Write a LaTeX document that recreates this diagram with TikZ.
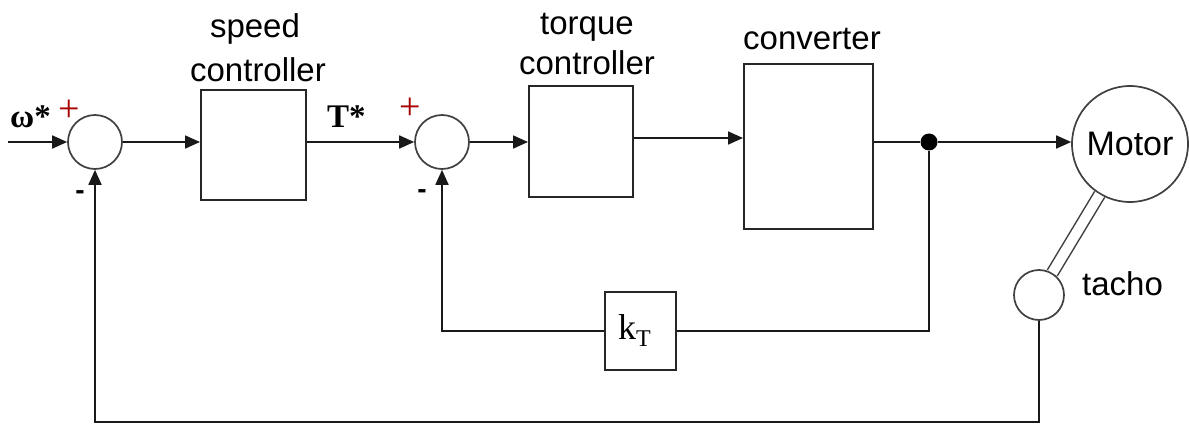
\documentclass[tikz,border=0pt]{standalone}
\usepackage{fontspec}
\setmainfont{Liberation Sans}
\newfontfamily\serifb{Liberation Serif}
\usetikzlibrary{arrows.meta}
\tikzset{
  line/.style={line width=1.8pt, draw=black!90},
  arr/.style={line, -{Triangle[length=15pt,width=13pt]}},
  sumnode/.style={circle, draw=black!75, line width=1.7pt, minimum size=54pt, inner sep=0pt},
  blockbox/.style={draw=black!85, line width=2pt, inner sep=0pt},
  lbl/.style={font=\fontsize{33}{40}\selectfont, anchor=base, inner sep=0pt},
  sig/.style={font=\serifb\bfseries\fontsize{33}{33}\selectfont, anchor=base west, inner sep=0pt},
  plus/.style={font=\serifb\fontsize{38}{38}\selectfont, text=red!65!black, inner sep=0pt},
  minus/.style={font=\bfseries\fontsize{28}{28}\selectfont, inner sep=0pt},
  junction/.style={circle, fill=black, minimum size=17pt, inner sep=0pt}
}
\begin{document}
\begin{tikzpicture}[x=1pt,y=-1pt]
\useasboundingbox[fill=white] (0,0) rectangle (1189,425);

% summing junctions
\node[sumnode] (sum1) at (95,142) {};
\node[sumnode] (sum2) at (442,142) {};

% blocks
\node[blockbox, minimum width=105pt, minimum height=110pt] (box1) at (253.5,145) {};
\node[blockbox, minimum width=104pt, minimum height=111pt] (box2) at (581,141.5) {};
\node[blockbox, minimum width=129pt, minimum height=165pt] (conv) at (808.5,146.5) {};
\node[blockbox, minimum width=71pt, minimum height=78pt] (kT) at (640.5,331)
  {\hspace*{-12pt}\serifb\fontsize{36}{36}\selectfont k\raisebox{-7pt}{\fontsize{24}{24}\selectfont T}};

% motor and tacho
\node[sumnode, minimum size=116pt, font=\fontsize{34}{40}\selectfont] (motor) at (1130,144) {Motor};
\node[sumnode, minimum size=50pt] (tacho) at (1039,295) {};
\draw[line width=1.5pt, draw=black!75, double, double distance=10pt] (tacho) -- (motor);

% labels
\node[lbl] (spd1) at (255,38) {speed};
\node[lbl] (spd2) at (258,82) {controller};
\node[lbl] (trq1) at (587,35) {torque};
\node[lbl] (trq2) at (587,75) {controller};
\node[lbl, anchor=base west] (cvl) at (743,50) {converter};
\node[lbl, anchor=base west] (tcl) at (1082,295) {tacho};

\node[sig] (wref) at (10,128) {ω*};
\node[sig] (tref) at (327,128) {T*};
\node[plus] (p1) at (69,111) {+};
\node[plus] (p2) at (410,109) {+};
\node[minus] (m1) at (80,195) {-};
\node[minus] (m2) at (422,194) {-};

% junction dot
\node[junction] (dot) at (929,142) {};

% forward path
\coordinate (in) at (8,142);
\draw[arr] (in) -- (sum1.west);
\draw[arr] (sum1.east) -- (sum1.east -| box1.west);
\draw[arr] (sum2.west -| box1.east) -- (sum2.west);
\draw[arr] (sum2.east) -- (sum2.east -| box2.west);
\draw[arr] ([yshift=3.5pt]box2.east) coordinate (b2o) -- (b2o -| conv.west);
\draw[line] (dot -| conv.east) -- (dot);
\draw[arr] (dot) -- (dot -| motor.west);

% inner feedback
\draw[line] (dot) -- (dot |- kT) -- (kT.east);
\draw[arr] (kT.west) -| (sum2.south);

% outer feedback
\coordinate (bot) at (1039,422);
\draw[arr] (tacho.south) -- (bot) -| (sum1.south);
\end{tikzpicture}
\end{document}
